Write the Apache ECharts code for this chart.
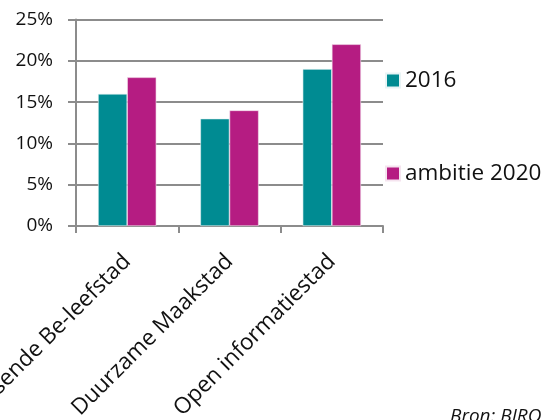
<!DOCTYPE html>
<html>
<head>
<meta charset="utf-8">
<script src="https://cdn.jsdelivr.net/npm/echarts@6/dist/echarts.min.js"></script>
<style>
  html, body { margin: 0; padding: 0; background: #fff; }
  #chart { width: 551px; height: 420px; }
</style>
</head>
<body>
<div id="chart"></div>
<script>
// Categories and series values (percent)
const categories = ['Bruisende Be-leefstad', 'Duurzame Maakstad', 'Open informatiestad'];
const values2016 = [16, 13, 19];
const valuesAmbitie2020 = [18, 14, 22];
const seriesNames = ['2016', 'ambitie 2020'];
const sourceText = 'Bron: BIRO';

const FONT = '"Open Sans", "Noto Sans", sans-serif';
const GRID_COLOR = '#8c8c8c';

const chart = echarts.init(document.getElementById('chart'), null, { renderer: 'canvas' });

chart.setOption({
  animation: false,
  backgroundColor: '#ffffff',
  textStyle: { fontFamily: FONT },
  grid: {
    left: 76, right: 168, top: 19.5, bottom: 194,
    containLabel: false,
    outerBoundsMode: 'none'
  },
  legend: {
    orient: 'vertical',
    left: 385,
    top: 69,
    padding: 0,
    itemWidth: 14,
    itemHeight: 14,
    itemGap: 70,
    icon: 'rect',
    textStyle: { fontFamily: FONT, fontSize: 22.5, lineHeight: 22, color: '#111', padding: [0, 0, 0, 0] },
    data: seriesNames
  },
  graphic: [{
    type: 'text',
    left: 450,
    top: 407,
    style: { text: sourceText, fontFamily: FONT, fontStyle: 'italic', fontSize: 19, fill: '#111' }
  }],
  xAxis: {
    type: 'category',
    data: categories,
    axisLine: { lineStyle: { color: GRID_COLOR, width: 2 } },
    axisTick: { show: true, length: 7, alignWithLabel: false, lineStyle: { color: GRID_COLOR, width: 2 } },
    axisLabel: { rotate: 45, margin: 32, fontFamily: FONT, fontSize: 22.5, color: '#111', interval: 0 }
  },
  yAxis: {
    type: 'value',
    min: 0,
    max: 25,
    interval: 5,
    axisLine: { show: true, lineStyle: { color: GRID_COLOR, width: 2 } },
    axisTick: { show: true, length: 8, lineStyle: { color: GRID_COLOR, width: 2 } },
    splitLine: { show: true, lineStyle: { color: GRID_COLOR, width: 2 } },
    axisLabel: {
      margin: 23,
      fontFamily: FONT,
      fontSize: 19,
      color: '#111',
      formatter: v => v + '%'
    }
  },
  series: [
    {
      name: seriesNames[0],
      type: 'bar',
      data: values2016,
      barGap: '0%',
      barCategoryGap: '43%',
      itemStyle: { color: '#008b92', borderColor: '#e8f4f5', borderWidth: 0.6 }
    },
    {
      name: seriesNames[1],
      type: 'bar',
      data: valuesAmbitie2020,
      barGap: '0%',
      barCategoryGap: '43%',
      itemStyle: { color: '#b51c82', borderColor: '#f5e4ef', borderWidth: 0.6 }
    }
  ]
});
</script>
</body>
</html>
